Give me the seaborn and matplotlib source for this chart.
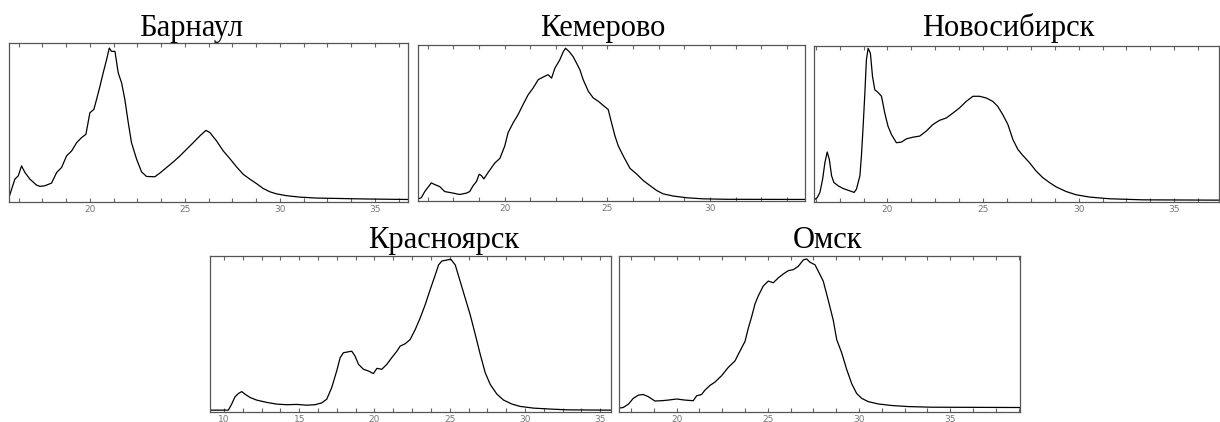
import matplotlib
matplotlib.use("Agg")
import matplotlib.pyplot as plt
from matplotlib.ticker import MultipleLocator
import seaborn as sns
import pandas as pd

# ---------------- data ----------------
cities = ["Барнаул", "Кемерово", "Новосибирск", "Красноярск", "Омск"]

barnaul_x = [15.74, 15.88, 16.05, 16.23, 16.40, 16.58, 16.84, 17.19, 17.37, 17.63, 17.98, 18.25,
             18.51, 18.77, 19.04, 19.30, 19.56, 19.79, 20.00, 20.21, 20.35, 20.53, 20.70, 20.88,
             21.02, 21.14, 21.32, 21.49, 21.67, 21.84, 22.02, 22.19, 22.46, 22.72, 22.98, 23.42,
             23.68, 24.04, 24.39, 24.74, 25.09, 25.44, 25.79, 26.11, 26.32, 26.67, 27.02, 27.37,
             27.72, 28.07, 28.42, 28.77, 29.12, 29.47, 29.82, 30.35, 31.05, 31.93, 32.81, 34.56, 36.75]
barnaul_y = [2.1, 7.4, 13.7, 15.8, 22.1, 17.9, 13.7, 9.9, 9.1, 9.5, 11.2, 17.9,
             21.1, 28.4, 31.6, 36.8, 40.0, 42.1, 55.8, 57.9, 64.2, 72.6, 81.1, 89.5,
             96.8, 94.7, 94.7, 81.1, 74.7, 64.2, 49.5, 36.8, 26.3, 18.3, 15.4, 15.2,
             17.5, 21.1, 24.6, 28.4, 32.6, 36.8, 41.1, 44.6, 43.2, 37.9, 31.6, 26.7,
             21.5, 16.8, 13.7, 10.9, 7.8, 5.7, 4.4, 3.2, 2.3, 1.7, 1.5, 1.1, 0.8]

kemerovo_x = [15.77, 15.93, 16.10, 16.26, 16.42, 16.59, 16.83, 17.07, 17.48, 17.80, 18.13, 18.29,
              18.46, 18.62, 18.75, 18.86, 18.98, 19.19, 19.51, 19.76, 20.00, 20.16, 20.41, 20.65,
              20.89, 21.14, 21.38, 21.63, 21.87, 22.11, 22.28, 22.44, 22.68, 22.85, 22.96, 23.14,
              23.33, 23.50, 23.66, 23.82, 24.07, 24.31, 24.55, 24.80, 25.04, 25.20, 25.37, 25.53,
              25.77, 26.10, 26.42, 26.75, 27.07, 27.40, 27.72, 28.21, 28.86, 29.67, 30.81, 34.63]
kemerovo_y = [0.6, 1.3, 5.3, 8.1, 10.9, 9.8, 8.5, 5.3, 4.3, 3.4, 4.3, 5.3,
              9.2, 11.8, 16.5, 15.6, 13.5, 17.7, 23.7, 26.7, 34.8, 43.4, 49.8, 55.1,
              61.5, 67.9, 72.2, 77.6, 79.3, 80.8, 78.6, 85.0, 90.4, 95.7, 97.9, 95.7,
              92.5, 88.2, 84.0, 77.6, 70.1, 65.8, 63.7, 60.9, 58.3, 49.8, 41.2, 34.8,
              28.4, 20.3, 16.7, 12.4, 9.2, 6.0, 3.8, 2.4, 1.3, 0.6, 0.3, 0.2]

novosib_x = [16.16, 16.33, 16.47, 16.61, 16.73, 16.85, 16.96, 17.08, 17.20, 17.43, 17.69, 18.03,
             18.26, 18.38, 18.56, 18.64, 18.73, 18.82, 18.90, 18.99, 19.11, 19.22, 19.34, 19.51,
             19.69, 19.86, 20.03, 20.21, 20.47, 20.73, 20.99, 21.34, 21.69, 22.03, 22.38, 22.73,
             23.08, 23.43, 23.77, 24.12, 24.47, 24.82, 25.17, 25.51, 25.77, 26.03, 26.30, 26.56,
             26.82, 27.08, 27.43, 27.77, 28.12, 28.47, 28.82, 29.34, 29.86, 30.56, 31.60, 33.34, 37.34]
novosib_y = [0.4, 2.1, 5.4, 13.9, 24.6, 31.5, 26.8, 16.1, 11.8, 9.6, 7.9, 6.4,
             5.4, 7.5, 16.1, 28.9, 48.2, 69.6, 91.0, 98.5, 95.3, 80.3, 71.7, 70.0,
             67.5, 56.7, 48.2, 42.8, 37.5, 37.9, 40.0, 41.1, 41.8, 45.0, 49.3, 52.0,
             53.5, 56.7, 60.0, 64.2, 67.5, 67.5, 66.4, 64.2, 61.0, 55.7, 49.3, 39.6,
             33.2, 29.3, 24.6, 19.3, 15.0, 11.8, 9.0, 6.0, 3.9, 2.4, 1.3, 0.6, 0.4]

krasn_x = [9.07, 10.29, 10.51, 10.73, 10.95, 11.18, 11.40, 11.73, 12.17, 12.84, 13.50, 14.17,
           14.83, 15.50, 16.05, 16.50, 16.83, 17.16, 17.49, 17.72, 17.94, 18.27, 18.49, 18.71,
           18.94, 19.27, 19.60, 19.93, 20.16, 20.49, 20.82, 21.15, 21.49, 21.71, 22.04, 22.37,
           22.71, 23.04, 23.37, 23.70, 24.04, 24.26, 24.48, 24.81, 25.08, 25.37, 25.70, 26.03,
           26.36, 26.70, 27.03, 27.36, 27.69, 28.14, 28.58, 29.14, 29.69, 30.58, 31.68, 32.79, 35.72]
krasn_y = [0.4, 0.4, 4.3, 9.0, 11.1, 12.4, 10.7, 8.6, 6.9, 5.4, 4.3, 3.9,
           4.1, 3.6, 3.9, 5.1, 7.5, 15.0, 25.7, 34.3, 37.5, 38.1, 38.5, 35.3,
           30.0, 26.8, 25.7, 24.0, 27.4, 26.8, 30.0, 34.3, 38.5, 41.8, 43.3, 46.0,
           52.5, 60.0, 68.5, 78.2, 87.8, 94.2, 96.8, 97.4, 97.9, 94.2, 83.5, 72.8,
           62.1, 49.3, 36.4, 24.6, 17.1, 10.7, 6.9, 4.3, 2.8, 1.7, 1.1, 0.6, 0.4]

omsk_x = [16.84, 17.07, 17.35, 17.62, 17.90, 18.17, 18.45, 18.81, 19.18, 19.54, 20.00, 20.46,
          20.91, 21.10, 21.37, 21.55, 21.83, 22.10, 22.47, 22.83, 23.20, 23.47, 23.75, 23.93,
          24.11, 24.30, 24.48, 24.75, 25.03, 25.30, 25.58, 25.85, 26.12, 26.40, 26.67, 26.95,
          27.13, 27.31, 27.59, 27.86, 28.04, 28.32, 28.59, 28.78, 29.05, 29.32, 29.60, 29.87,
          30.15, 30.51, 31.06, 31.79, 32.71, 33.99, 38.83]
omsk_y = [1.7, 2.1, 4.2, 8.0, 10.1, 10.5, 9.1, 6.3, 6.5, 6.9, 7.6, 6.9,
          6.5, 9.7, 10.5, 13.3, 16.4, 18.5, 22.7, 28.0, 32.2, 38.5, 44.8, 53.3,
          60.6, 69.1, 74.3, 80.6, 83.8, 82.7, 85.9, 88.4, 90.5, 91.2, 93.3, 97.5,
          98.1, 96.0, 94.3, 88.0, 83.8, 71.2, 58.5, 45.9, 37.5, 26.9, 17.5, 11.2,
          8.0, 5.9, 4.4, 3.4, 2.7, 2.3, 2.1]

series_x = [barnaul_x, kemerovo_x, novosib_x, krasn_x, omsk_x]
series_y = [barnaul_y, kemerovo_y, novosib_y, krasn_y, omsk_y]
x_limits = [(15.74, 36.75), (15.77, 34.63), (16.16, 37.34), (9.07, 35.72), (16.84, 38.83)]

# ---------------- layout (pixels) ----------------
W, H = 1220, 422
boxes = [(9, 43, 408, 202), (418, 45, 805, 201), (814, 46, 1219, 202),
         (210, 256, 611, 412), (619, 256, 1020, 412)]
title_pos = [(191, 36), (603, 36), (1008, 36), (444, 248), (828, 248)]

sns.set_style("white")
plt.rcParams['font.family'] = ['DejaVu Sans']

fig = plt.figure(figsize=(W / 100, H / 100), dpi=100)

for i, city in enumerate(cities):
    l, t, r, b = boxes[i]
    ax = fig.add_axes([l / W, 1 - b / H, (r - l) / W, (b - t) / H])
    df = pd.DataFrame({"x": series_x[i], "y": series_y[i]})
    sns.lineplot(data=df, x="x", y="y", ax=ax, color="black", linewidth=0.9, sort=False)
    ax.set_xlim(*x_limits[i])
    ax.set_ylim(-0.8, 100)
    ax.set_xlabel("")
    ax.set_ylabel("")
    ax.set_yticks([])
    ax.xaxis.set_major_locator(MultipleLocator(5))
    ax.xaxis.set_minor_locator(MultipleLocator(1.25))
    ax.tick_params(axis="x", which="both", direction="in", top=True, bottom=True,
                   length=3, width=0.8, color="#666666", labelsize=6.5,
                   labelcolor="#777777", pad=2)
    for sp in ax.spines.values():
        sp.set_color("#555555")
        sp.set_linewidth(0.9)
    tx, ty = title_pos[i]
    fig.text(tx / W, 1 - ty / H, city, ha="center", va="baseline",
             fontsize=22, family=["Liberation Serif", "DejaVu Serif"], color="black")

fig.savefig("out.png", dpi=100)
